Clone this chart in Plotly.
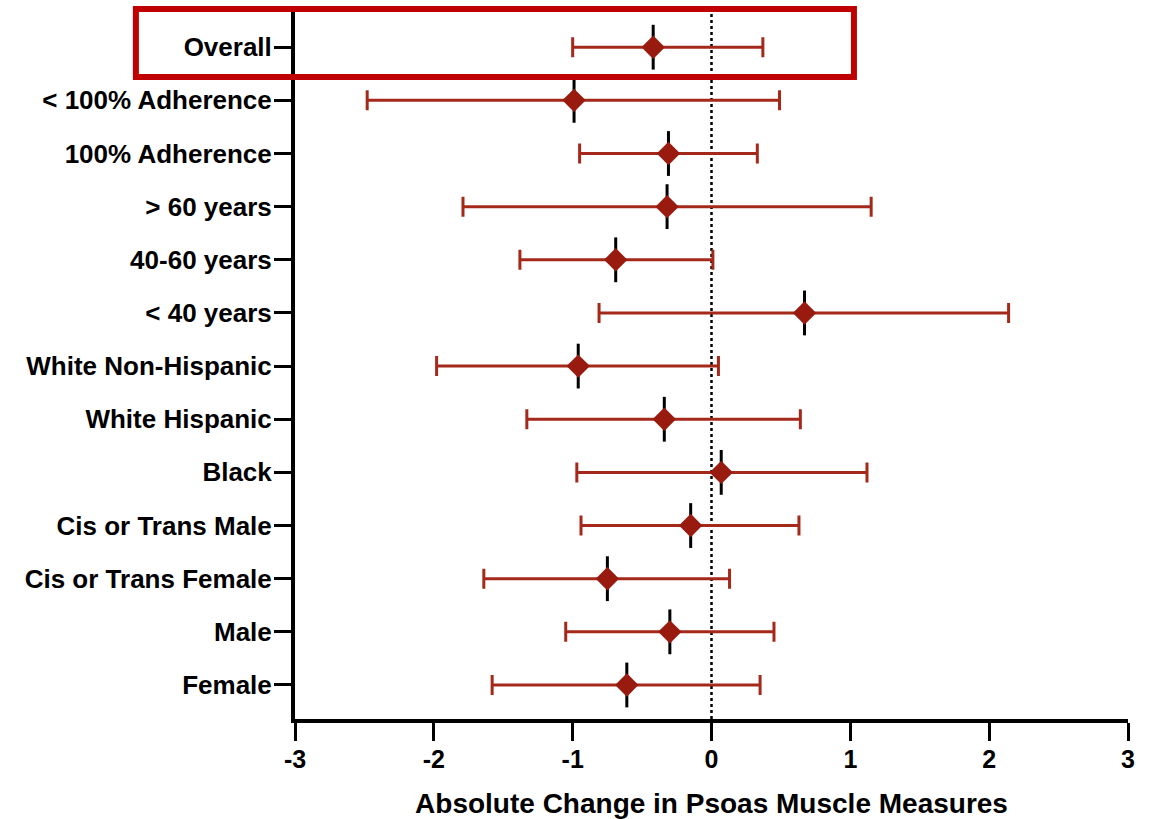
import plotly.graph_objects as go

# Subgroup estimates with 95% confidence limits
categories = [
    "Overall", "< 100% Adherence", "100% Adherence", "> 60 years", "40-60 years",
    "< 40 years", "White Non-Hispanic", "White Hispanic", "Black",
    "Cis or Trans Male", "Cis or Trans Female", "Male", "Female",
]
means = [-0.42, -0.99, -0.31, -0.32, -0.69, 0.67, -0.96, -0.34, 0.07, -0.15, -0.75, -0.30, -0.61]
lower = [-1.00, -2.48, -0.95, -1.79, -1.38, -0.81, -1.98, -1.33, -0.97, -0.94, -1.64, -1.05, -1.58]
upper = [0.37, 0.49, 0.33, 1.15, 0.01, 2.14, 0.05, 0.64, 1.12, 0.63, 0.13, 0.45, 0.35]

x_ticks = [-3, -2, -1, 0, 1, 2, 3]

BAR = "#a5291b"
DOT = "#991a0e"
FONT = "Arial, Liberation Sans, sans-serif"

err_plus = [u - m for u, m in zip(upper, means)]
err_minus = [m - l for m, l in zip(means, lower)]

fig = go.Figure()

# confidence interval whiskers
fig.add_trace(go.Scatter(
    x=means, y=categories, mode="markers",
    marker=dict(size=1, color="rgba(0,0,0,0)"),
    error_x=dict(type="data", symmetric=False, array=err_plus, arrayminus=err_minus,
                 color=BAR, thickness=3, width=10),
    showlegend=False, hoverinfo="skip",
))

# short black mean line behind each point
fig.add_trace(go.Scatter(
    x=means, y=categories, mode="markers",
    marker=dict(symbol="line-ns", size=32, line=dict(width=3, color="black")),
    showlegend=False, hoverinfo="skip",
))

# point estimates
fig.add_trace(go.Scatter(
    x=means, y=categories, mode="markers",
    marker=dict(symbol="diamond", size=18, color=DOT, line=dict(width=0)),
    showlegend=False,
))

fig.update_layout(
    width=1152, height=819,
    margin=dict(l=295, r=24, t=10, b=100),
    paper_bgcolor="white", plot_bgcolor="white",
    font=dict(family=FONT, color="black"),
    xaxis=dict(
        range=[-3, 3], tickvals=x_ticks, ticktext=[str(v) for v in x_ticks],
        automargin=False,
        showgrid=False, zeroline=False,
        showline=True, linewidth=4, linecolor="black",
        ticks="outside", ticklen=18, tickwidth=3, tickcolor="black",
        ticklabelstandoff=-3,
        tickfont=dict(size=25, family=FONT, weight="bold"),
        title=dict(text="<b>Absolute Change in Psoas Muscle Measures</b>",
                   font=dict(size=28, family=FONT), standoff=27),
    ),
    yaxis=dict(
        type="category", categoryorder="array", categoryarray=categories,
        range=[12.64, -0.70],
        automargin=False,
        showgrid=False, zeroline=False,
        showline=True, linewidth=4, linecolor="black",
        ticks="outside", ticklen=17, tickwidth=3, tickcolor="black",
        ticklabelstandoff=-3,
        tickfont=dict(size=26, family=FONT, weight="bold"),
    ),
    shapes=[
        # reference line at zero change
        dict(type="line", xref="x", yref="paper", x0=0, x1=0, y0=0, y1=1,
             line=dict(color="black", width=2.5, dash="dot"), layer="below"),
        # highlight box around the overall estimate
        dict(type="rect", xref="paper", yref="paper",
             x0=-0.191, x1=0.671, y0=0.9055, y1=1.0014,
             line=dict(color="#c00000", width=6), fillcolor="rgba(0,0,0,0)"),
    ],
)

fig.write_html("out.html")
